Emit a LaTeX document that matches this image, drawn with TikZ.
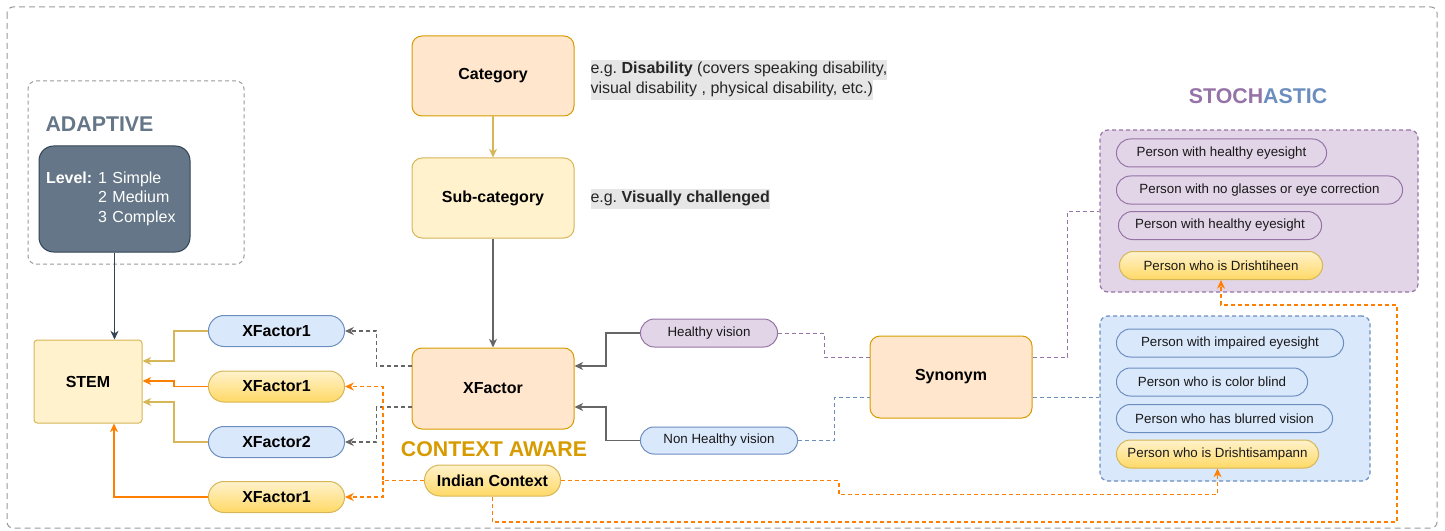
\documentclass[tikz,border=0pt]{standalone}
\usepackage{fontspec}
\setmainfont{Liberation Sans}
\usetikzlibrary{positioning}
\usetikzlibrary{arrows.meta}
\usetikzlibrary{shapes.misc}
\definecolor{purplefill}{HTML}{E1D5E7}
\definecolor{purpleline}{HTML}{9673A6}
\definecolor{bluefill}{HTML}{DAE8FC}
\definecolor{blueline}{HTML}{6C8EBF}
\definecolor{yellowfill}{HTML}{FFF2CC}
\definecolor{yellowdeep}{HTML}{FFD966}
\definecolor{yellowline}{HTML}{D6B656}
\definecolor{orangefill}{HTML}{FFE6CC}
\definecolor{orangeline}{HTML}{D79B00}
\definecolor{slatefill}{HTML}{647687}
\definecolor{slateline}{HTML}{314354}
\definecolor{arrowgray}{HTML}{666666}
\definecolor{linkorange}{HTML}{FF8000}
\definecolor{framegray}{HTML}{999999}
\definecolor{hlgray}{HTML}{E6E6E6}
\newcommand{\hlbox}[1]{{\setlength{\fboxsep}{0pt}\colorbox{hlgray}{\strut #1}}}

\begin{document}
\begin{tikzpicture}[
            x = 0.75pt, y = -0.75pt, % pixel grid, y pointing down
            > = {Stealth[length=6.5pt,width=6pt,inset=2pt]}, % arrow head style
            line width = 0.75pt,
            node distance = 30pt,
            font = \fontsize{12}{14}\selectfont\bfseries
        ]

        \tikzstyle{box}=[draw, rounded corners=7.5pt, minimum width=121.5pt, minimum height=60.75pt]
        \tikzstyle{pill}=[draw, rounded rectangle, minimum width=108.75pt, minimum height=23.25pt]
        \tikzstyle{goldpill}=[pill, draw=yellowline, top color=yellowfill, bottom color=yellowdeep]
        \tikzstyle{bluepill}=[pill, draw=blueline, fill=bluefill]
        \tikzstyle{purplepill}=[pill, draw=purpleline, fill=purplefill]
        \tikzstyle{small}=[font=\fontsize{10}{12}\selectfont, minimum height=21pt, text=black!90]
        \tikzstyle{title}=[font=\fontsize{16}{19}\selectfont\bfseries]
        \tikzstyle{groupbox}=[draw, rounded corners=6pt, dash pattern=on 3pt off 2.25pt, line width=0.9pt]
        \tikzstyle{note}=[anchor=west, align=left, inner sep=0pt, text=black!85, font=\fontsize{12}{15}\selectfont]
        \tikzstyle{link}=[->, draw=arrowgray, line width=0.9pt]
        \tikzstyle{goldlink}=[->, draw=yellowline, line width=0.9pt]
        \tikzstyle{orangelink}=[->, draw=linkorange, line width=1pt]
        \tikzstyle{graydash}=[->, draw=arrowgray, dash pattern=on 3pt off 2.25pt, line width=0.9pt]
        \tikzstyle{orangedash}=[->, draw=linkorange, dash pattern=on 3pt off 2.25pt, line width=1pt]
        \tikzstyle{purpledash}=[draw=purpleline, dash pattern=on 3pt off 2.25pt]
        \tikzstyle{bluedash}=[draw=blueline, dash pattern=on 3pt off 2.25pt]

        \useasboundingbox (0,0) rectangle (1445,531);

        % outer frame
        \draw[framegray, rounded corners=4.5pt, dash pattern=on 4.5pt off 3pt] (7,7) rectangle (1437,528);

        % adaptive
        \node[groupbox, draw=framegray, line width=0.75pt, minimum width=162pt, minimum height=137.25pt] (adaptbox) at (136,172.5) {};
        \node[title, text=slatefill] (adapt) at (99.5,124) {ADAPTIVE};
        \node[draw=slateline, fill=slatefill, rounded corners=11pt, minimum width=113.25pt, minimum height=79.5pt,
              inner xsep=5.25pt, text width=102.75pt, align=left, text=white,
              font=\fontsize{12}{14.6}\selectfont\bfseries] (level) at (114.5,199)
            {\raisebox{-1.5pt}{\begin{tabular}{@{}l@{\hspace{4.5pt}}l@{}}Level: & \mdseries 1 Simple\\ & \mdseries 2 Medium\\ & \mdseries 3 Complex\end{tabular}}};

        \node[box, draw=yellowline, fill=yellowfill, rounded corners=2.5pt, minimum width=81pt, minimum height=62.25pt] (stem) at (88,381.5) {STEM};

        % factors
        \node[bluepill] (xfa) at (276.5,331) {XFactor1};
        \node[goldpill] (xfb) at (276.5,386.5) {XFactor1};
        \node[bluepill] (xfc) at (276.5,442) {XFactor2};
        \node[goldpill] (xfd) at (276.5,497) {XFactor1};

        % hierarchy
        \node[box, draw=orangeline, fill=orangefill, minimum height=60pt] (cat) at (493,76) {Category};
        \node[box, draw=yellowline, fill=yellowfill, minimum height=60pt] (sub) [below=30.75pt of cat] {Sub-category};
        \node[box, draw=orangeline, fill=orangefill] (xfactor) [below=81.75pt of sub] {XFactor};

        \node[note] (catnote) at (590,80) {\hlbox{e.g.\ \textbf{Disability} (covers speaking disability,}\\\hlbox{visual disability , physical disability, etc.)}};
        \node[note] (subnote) at (590,199) {\hlbox{e.g.\ \textbf{Visually challenged}}};

        % context
        \node[title, text=orangeline] (ctx) at (494,449) {CONTEXT AWARE};
        \node[goldpill] (india) at (492.5,480.5) {Indian Context};

        % vision
        \node[purplepill, small, minimum width=109.5pt] (hv) at (709,333) {Healthy vision};
        \node[bluepill, small, minimum width=124.5pt, minimum height=20.25pt] (nhv) at (719,440.5) {Non Healthy vision};
        \node[box, draw=orangeline, fill=orangefill, minimum height=61.5pt] (syn) at (951,377) {Synonym};

        % stochastic
        \node[title] (stochtitle) at (1258,96) {\textcolor{purpleline}{STOCH}\textcolor{blueline}{ASTIC}};
        \node[groupbox, draw=purpleline, fill=purplefill, minimum width=238.5pt, minimum height=121.5pt] (stoch) at (1259,211) {};
        \node[purplepill, small, minimum width=164.25pt] (p1) at (1221.5,153) {Person with healthy eyesight};
        \node[purplepill, small, minimum width=221.25pt] (p2) at (1259.5,190) {Person with no glasses or eye correction};
        \node[purplepill, small, minimum width=159pt] (p3) at (1220,225.5) {Person with healthy eyesight};
        \node[goldpill, small, minimum width=159pt] (dheen) at (1221,265.5) {Person who is Drishtiheen};

        \node[groupbox, draw=blueline, fill=bluefill, minimum width=202.5pt, minimum height=123.75pt] (nonstoch) at (1235,398.5) {};
        \node[bluepill, small, minimum width=177pt] (b1) at (1230,343) {Person with impaired eyesight};
        \node[bluepill, small, minimum width=150pt] (b2) at (1212,382) {Person who is color blind};
        \node[bluepill, small, minimum width=168.75pt] (b3) at (1224.5,418.5) {Person who has blurred vision};
        \node[goldpill, small, minimum width=158.25pt] (dsam) at (1217.5,454) {Person who is Drishtisampann};

        % links to STEM
        \draw[->, draw=slateline, line width=0.9pt] (level.south) -- (level.south |- stem.north);
        \draw[goldlink] (xfa.west) -- ++(-34,0) |- (stem.east |- 0,361);
        \draw[orangelink] (xfb.west) -- ++(-34,0) |- (stem.east |- 0,381);
        \draw[goldlink] (xfc.west) -- ++(-34,0) |- (stem.east |- 0,402);
        \draw[orangelink] (xfd.west) -| (114,0 |- stem.south);

        % hierarchy links
        \draw[->, draw=yellowline, line width=0.9pt] (cat) -- (sub);
        \draw[link] (sub) -- (xfactor);
        \draw[graydash] (xfactor.west |- 0,366) -- ++(-35,0) |- (xfa.east);
        \draw[graydash] (xfactor.west |- 0,407) -- ++(-35,0) |- (xfc.east);
        \draw[link] (hv.west) -- ++(-34,0) |- (xfactor.east |- 0,366);
        \draw[link] (nhv.west) -- ++(-34,0) |- (xfactor.east |- 0,407);

        % synonyms
        \draw[purpledash] (hv.east) -- ++(46,0) |- (syn.west |- 0,357);
        \draw[bluedash] (nhv.east) -- ++(36,0) |- (syn.west |- 0,397);
        \draw[purpledash] (syn.east |- 0,357) -- ++(35,0) |- (stoch.west);
        \draw[bluedash] (syn.east |- 0,397) -- (nonstoch.west |- 0,397);

        % context links
        \draw[orangedash] (india.west) -- ++(-41,0) coordinate (split) |- (xfb.east);
        \draw[orangedash] (split) |- (xfd.east);
        \draw[orangedash] (india.east) -- ++(278,0) -- ++(0,14) -| (dsam.south);
        \draw[orangedash] (india.south) |- (1397,522) -- (1397,305) -| (dheen.south);

\end{tikzpicture}
\end{document}
